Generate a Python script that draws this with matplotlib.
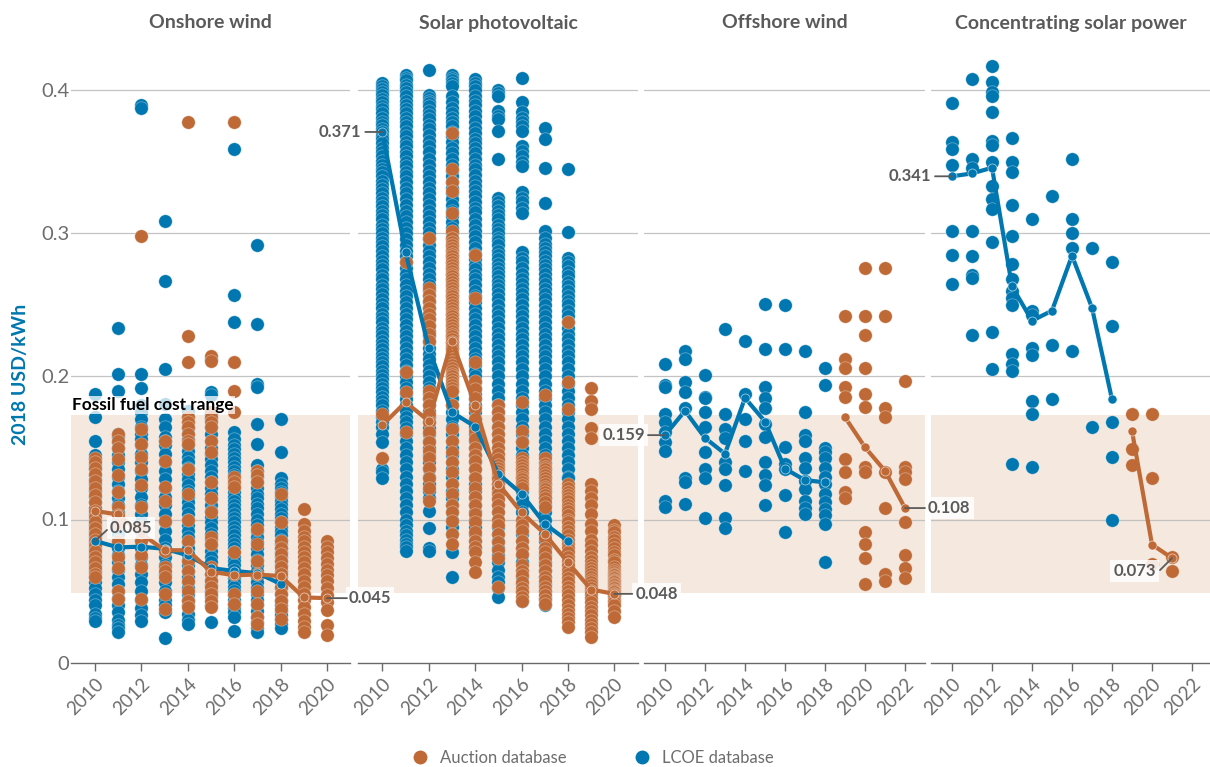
import matplotlib
matplotlib.use("Agg")
import matplotlib.pyplot as plt
from matplotlib.lines import Line2D

plt.rcParams['font.family'] = ['Lato', 'DejaVu Sans']

W = 1210
H = 767
BLUE = "#0077b0"
ORANGE = "#bf6a36"
SHADE = "#f4e8df"
GREY = "#5a5a5a"

titles = ["Onshore wind", "Solar photovoltaic", "Offshore wind", "Concentrating solar power"]
y_ticks = [0, 0.1, 0.2, 0.3, 0.4]
y_tick_labels = ["0", "0.1", "0.2", "0.3", "0.4"]
fossil_range = [0.0483, 0.1734]

# onshore wind, one list per year
onshore_lcoe_years = [2010, 2011, 2012, 2013, 2014, 2015, 2016, 2017, 2018]
onshore_lcoe = [
    [.188, .172, .155, .145, .142, .138, .135, .131, .128, .125, .12, .116, .112, .108, .104, .1, .096, .092, .088, .084, .08, .076, .072, .068, .064, .06, .056, .052, .048, .044, .04, .034, .031, .029],
    [.234, .202, .19, .16, .158, .154, .15, .145, .14, .135, .13, .125, .12, .115, .11, .105, .1, .095, .09, .085, .08, .075, .07, .065, .06, .055, .05, .045, .04, .035, .03, .026, .024, .021],
    [.39, .388, .202, .192, .18, .175, .17, .165, .16, .156, .152, .146, .14, .134, .128, .122, .116, .11, .104, .098, .092, .086, .08, .074, .068, .062, .056, .05, .044, .038, .033, .029],
    [.309, .267, .205, .181, .17, .165, .158, .155, .152, .146, .14, .134, .128, .122, .116, .11, .104, .098, .092, .086, .08, .074, .068, .062, .056, .05, .044, .04, .035, .017],
    [.176, .172, .168, .164, .16, .156, .152, .148, .144, .14, .136, .132, .128, .124, .12, .116, .112, .108, .104, .1, .096, .092, .088, .084, .08, .076, .072, .068, .064, .06, .056, .052, .048, .044, .04, .034, .03, .027],
    [.212, .189, .187, .174, .17, .165, .16, .155, .15, .146, .142, .138, .134, .13, .126, .122, .118, .114, .11, .106, .102, .098, .094, .09, .086, .082, .078, .074, .07, .066, .062, .058, .054, .05, .046, .04, .028],
    [.359, .257, .238, .161, .156, .152, .149, .146, .143, .14, .137, .134, .131, .128, .125, .122, .119, .116, .113, .11, .107, .104, .101, .098, .095, .092, .089, .086, .083, .08, .077, .074, .071, .068, .065, .062, .059, .056, .053, .05, .047, .044, .041, .038, .035, .032, .022],
    [.292, .237, .195, .193, .167, .153, .138, .134, .13, .126, .122, .118, .115, .111, .108, .104, .1, .096, .092, .088, .084, .08, .076, .072, .068, .064, .06, .056, .052, .048, .044, .04, .036, .032, .028, .024, .021],
    [.17, .147, .129, .125, .122, .119, .116, .113, .11, .107, .104, .101, .098, .095, .092, .089, .086, .083, .08, .077, .074, .071, .068, .064, .06, .056, .052, .048, .044, .04, .036, .033, .03, .027, .024],
]
onshore_auction_years = [2010, 2011, 2012, 2013, 2014, 2015, 2016, 2017, 2018, 2019, 2020]
onshore_auction = [
    [.143, .14, .136, .132, .127, .122, .117, .112, .106, .102, .098, .094, .09, .086, .082, .078, .074, .07, .066, .062, .06],
    [.16, .155, .15, .142, .131, .119, .109, .103, .097, .085, .074, .066, .05, .0445],
    [.298, .163, .153, .144, .135, .124, .109, .095, .085, .075, .067, .0445],
    [.155, .141, .123, .113, .099, .078, .067, .064, .06, .048, .0375],
    [.378, .228, .21, .172, .168, .165, .16, .155, .153, .135, .118, .1, .085, .071, .064, .057, .05, .043, .039],
    [.214, .211, .175, .172, .168, .165, .155, .147, .126, .115, .105, .088, .083, .067, .062, .057, .053, .048, .043, .039],
    [.378, .21, .19, .175, .13, .126, .123, .077, .062, .048, .041],
    [.134, .131, .126, .0935, .083, .071, .062, .05, .041, .032, .027],
    [.118, .098, .085, .08, .076, .071, .067, .062, .057, .053, .048, .043, .0375, .0305],
    [.107, .097, .092, .088, .085, .081, .077, .074, .07, .066, .062, .057, .053, .048, .044, .039, .034, .029, .025, .021],
    [.085, .081, .077, .073, .069, .065, .061, .057, .052, .047, .042, .037, .026, .019],
]
onshore_lcoe_line = [.085, .0805, .081, .0795, .075, .066, .064, .0625, .055]
onshore_auction_line = [.106, .1035, .09, .0785, .0785, .0635, .061, .0615, .0605, .0455, .045]

# solar photovoltaic
solar_lcoe_years = [2010, 2011, 2012, 2013, 2014, 2015, 2016, 2017, 2018]
solar_lcoe = [
    [.405, .403, .401, .399, .397, .394, .392, .389, .387, .384, .381, .378, .376, .373, .371, .368, .366, .363, .36, .357, .354, .351, .348, .345, .343, .34, .337, .334, .331, .328, .325, .322, .319, .316, .313, .31, .306, .303, .3, .297, .294, .291, .288, .284, .281, .278, .275, .271, .268, .264, .261, .258, .254, .251, .248, .244, .241, .238, .234, .231, .228, .225, .222, .219, .216, .213, .21, .207, .204, .201, .198, .195, .192, .189, .186, .183, .18, .176, .172, .168, .165, .16, .154, .135, .133, .129],
    [.411, .409, .407, .404, .402, .399, .396, .393, .39, .387, .384, .381, .378, .375, .371, .368, .364, .361, .357, .354, .35, .347, .343, .34, .336, .332, .328, .324, .32, .316, .312, .308, .304, .3, .296, .292, .288, .284, .28, .276, .272, .268, .264, .26, .256, .252, .248, .244, .24, .236, .232, .228, .224, .22, .216, .212, .208, .204, .2, .196, .192, .188, .184, .18, .176, .172, .168, .164, .16, .155, .15, .145, .14, .135, .13, .125, .12, .115, .11, .105, .1, .096, .092, .089, .086, .083, .081, .078],
    [.414, .397, .395, .393, .391, .389, .386, .383, .38, .376, .373, .369, .365, .361, .357, .352, .348, .344, .34, .336, .332, .328, .324, .32, .316, .312, .308, .304, .3, .296, .292, .288, .284, .28, .276, .272, .268, .264, .26, .256, .252, .248, .244, .24, .236, .232, .228, .224, .22, .216, .212, .208, .204, .2, .196, .192, .188, .184, .18, .176, .172, .168, .164, .16, .155, .15, .145, .14, .135, .13, .125, .12, .115, .106, .094, .08, .078],
    [.411, .409, .407, .405, .403, .396, .392, .388, .384, .381, .378, .375, .371, .368, .364, .36, .356, .352, .348, .344, .34, .336, .332, .328, .324, .32, .316, .312, .308, .304, .3, .296, .292, .288, .284, .28, .276, .272, .268, .264, .26, .256, .252, .248, .244, .24, .236, .232, .228, .224, .22, .216, .212, .208, .204, .2, .195, .19, .185, .18, .175, .17, .165, .16, .155, .15, .145, .14, .135, .13, .125, .12, .115, .11, .105, .1, .095, .09, .077, .06],
    [.408, .405, .403, .4, .396, .393, .39, .386, .382, .378, .374, .37, .366, .363, .36, .356, .352, .348, .345, .341, .337, .333, .33, .326, .322, .318, .315, .31, .306, .302, .298, .294, .29, .286, .282, .278, .275, .271, .268, .264, .26, .256, .252, .248, .244, .24, .236, .232, .228, .224, .22, .216, .212, .208, .204, .2, .196, .192, .188, .184, .18, .175, .17, .165, .16, .155, .15, .145, .14, .135, .13, .125, .12, .115, .11, .105, .1, .095, .09, .085, .08],
    [.4, .398, .396, .386, .382, .38, .372, .352, .325, .322, .319, .316, .313, .31, .306, .303, .3, .297, .295, .292, .288, .285, .282, .279, .276, .273, .27, .267, .264, .261, .258, .254, .25, .246, .242, .238, .234, .23, .226, .222, .218, .214, .21, .205, .2, .195, .19, .185, .18, .175, .17, .165, .16, .155, .15, .145, .14, .135, .13, .125, .12, .115, .11, .105, .1, .095, .09, .085, .08, .075, .07, .065, .06, .056, .052, .0455],
    [.409, .392, .385, .381, .378, .375, .372, .361, .358, .354, .35, .347, .329, .325, .322, .318, .314, .287, .283, .28, .276, .272, .268, .265, .261, .258, .254, .25, .246, .242, .238, .234, .23, .226, .222, .218, .214, .21, .205, .2, .195, .19, .185, .18, .175, .17, .165, .16, .155, .15, .145, .14, .135, .13, .125, .12, .115, .11, .105, .1, .095, .09, .085, .08, .075, .07, .065, .06, .055, .05, .043],
    [.374, .366, .346, .321, .302, .297, .293, .29, .287, .284, .281, .278, .275, .272, .268, .265, .261, .258, .254, .25, .246, .242, .238, .234, .23, .226, .222, .218, .214, .21, .205, .2, .195, .19, .185, .18, .175, .17, .165, .16, .155, .15, .145, .14, .135, .13, .125, .12, .115, .11, .105, .1, .095, .09, .085, .08, .075, .07, .065, .06, .055, .05, .045, .04],
    [.345, .301, .283, .28, .277, .273, .27, .266, .263, .26, .256, .253, .25, .246, .242, .238, .234, .23, .226, .222, .218, .214, .21, .205, .2, .195, .19, .185, .18, .175, .17, .165, .16, .155, .15, .145, .14, .135, .13, .129, .12],
]
solar_auction_years = [2010, 2011, 2012, 2013, 2014, 2015, 2016, 2017, 2018, 2019, 2020]
solar_auction = [
    [.174, .143],
    [.28, .203, .189, .161],
    [.297, .262, .257, .253, .248, .244, .24, .235, .23, .225, .19, .185, .18, .174, .168, .161, .154, .148, .143, .136, .129, .122, .113],
    [.37, .345, .336, .33, .314, .302, .297, .294, .292, .29, .288, .286, .284, .282, .28, .278, .276, .274, .272, .27, .268, .266, .264, .262, .26, .258, .256, .254, .252, .25, .248, .246, .244, .242, .24, .238, .236, .234, .232, .23, .228, .226, .224, .222, .22, .218, .216, .214, .212, .21, .208, .206, .204, .202, .2, .198, .196, .194, .192, .19, .18, .163, .155, .147, .14, .133, .125, .118, .11, .105, .099, .09, .083],
    [.285, .255, .21, .197, .191, .185, .178, .17, .162, .156, .15, .145, .141, .135, .129, .122, .116, .11, .104, .098, .091, .085, .081, .077, .07, .063],
    [.18, .175, .17, .165, .16, .155, .15, .146, .142, .138, .136, .134, .132, .13, .128, .125, .122, .118, .114, .11, .105, .1, .096, .09, .084, .079, .073, .053],
    [.182, .162, .154, .143, .14, .138, .136, .134, .132, .13, .128, .126, .124, .122, .1, .096, .092, .085, .08, .076, .068, .064, .061, .056, .052, .049, .046, .043],
    [.187, .143, .139, .137, .135, .133, .131, .129, .127, .125, .123, .121, .119, .117, .115, .112, .109, .087, .08, .077, .073, .068, .064, .06, .057, .053, .05, .047, .044, .041],
    [.238, .196, .177, .125, .122, .119, .117, .115, .113, .11, .108, .106, .103, .1, .098, .095, .092, .089, .086, .083, .08, .077, .074, .071, .068, .065, .062, .059, .056, .053, .05, .047, .044, .04, .037, .034, .031, .028, .025],
    [.192, .183, .177, .164, .157, .125, .12, .115, .11, .104, .097, .092, .086, .082, .078, .074, .071, .068, .066, .064, .062, .06, .058, .056, .054, .052, .05, .048, .045, .042, .039, .036, .033, .03, .027, .024, .021, .0175],
    [.096, .093, .091, .088, .086, .083, .08, .077, .075, .072, .07, .067, .065, .063, .062, .061, .06, .059, .058, .057, .056, .055, .054, .053, .052, .051, .05, .049, .048, .047, .046, .044, .042, .04, .036, .032],
]
solar_lcoe_line = [.371, .287, .22, .175, .165, .132, .118, .097, .085]
solar_auction_line = [.166, .182, .169, .225, .18, .125, .105, .09, .07, .051, .048]

# offshore wind
offshore_lcoe_years = [2010, 2011, 2012, 2013, 2014, 2015, 2016, 2017, 2018]
offshore_lcoe = [
    [.209, .194, .193, .174, .168, .161, .154, .148, .113, .1085],
    [.2175, .212, .196, .1895, .178, .129, .126, .111],
    [.201, .186, .185, .175, .165, .147, .135, .129, .101],
    [.233, .174, .163, .157, .14, .135, .124, .101, .094],
    [.2245, .188, .17, .155, .134],
    [.251, .219, .193, .185, .178, .167, .158, .14, .131, .124, .11],
    [.25, .2195, .151, .139, .135, .117, .091],
    [.218, .175, .159, .155, .143, .136, .127, .121, .113, .108, .104],
    [.206, .194, .15, .147, .143, .136, .13, .125, .118, .112, .107, .103, .097, .07],
]
offshore_auction_years = [2019, 2020, 2021, 2022]
offshore_auction = [
    [.242, .212, .206, .193, .186, .142, .133, .119, .115],
    [.276, .242, .229, .206, .188, .179, .137, .133, .091, .083, .073, .055],
    [.276, .242, .178, .172, .133, .108, .062, .057],
    [.197, .137, .133, .128, .098, .0755, .066, .059],
]
offshore_lcoe_line = [.159, .176, .157, .146, .185, .1685, .1355, .1275, .126]
offshore_auction_line = [.1715, .1505, .134, .108]

# concentrating solar power
csp_lcoe_years = [2010, 2011, 2012, 2013, 2014, 2015, 2016, 2017, 2018]
csp_lcoe = [
    [.391, .364, .359, .348, .302, .285, .265],
    [.408, .352, .346, .302, .284, .271, .269, .229],
    [.417, .406, .399, .396, .385, .365, .362, .35, .3335, .324, .317, .294, .231, .2055],
    [.367, .35, .343, .32, .298, .279, .268, .26, .255, .25, .216, .209, .204, .1385],
    [.31, .246, .243, .22, .215, .183, .174, .1365],
    [.3265, .222, .184],
    [.352, .31, .3, .29, .218],
    [.29, .165],
    [.28, .2355, .168, .1435, .0995],
]
csp_auction_years = [2019, 2020, 2021]
csp_auction = [
    [.174, .149, .138],
    [.174, .129, .069],
    [.074, .064],
]
csp_lcoe_line = [.34, .342, .346, .263, .239, .246, .2845, .248, .184]
csp_auction_line = [.162, .0825, .073]

# left pixel, right pixel, pixel of 2010, pixels per year, last labelled year
panels = [
    (71, 350, 95, 23.2, 2020),
    (358, 638, 382.3, 23.2, 2020),
    (644, 925, 665, 20, 2022),
    (931, 1210, 952, 20, 2022),
]
panel_data = [
    (onshore_lcoe_years, onshore_lcoe, onshore_auction_years, onshore_auction, onshore_lcoe_line, onshore_auction_line),
    (solar_lcoe_years, solar_lcoe, solar_auction_years, solar_auction, solar_lcoe_line, solar_auction_line),
    (offshore_lcoe_years, offshore_lcoe, offshore_auction_years, offshore_auction, offshore_lcoe_line, offshore_auction_line),
    (csp_lcoe_years, csp_lcoe, csp_auction_years, csp_auction, csp_lcoe_line, csp_auction_line),
]

# panel, year, value, text, text offset in pixels, alignment, leader end offset
callouts = [
    (0, 2010, .085, "0.085", (15, 13), "left", (12, 11)),
    (0, 2020, .045, "0.045", (22, 0), "left", (20, 0)),
    (1, 2010, .371, "0.371", (-21, 0), "right", (-17, 0)),
    (1, 2020, .048, "0.048", (21, 0), "left", (18, 0)),
    (2, 2010, .159, "0.159", (-20, 0), "right", (-17, 0)),
    (2, 2022, .108, "0.108", (23, 0), "left", (20, 0)),
    (3, 2010, .34, "0.341", (-21, 0), "right", (-17, 0)),
    (3, 2021, .073, "0.073", (-16, -13), "right", (-12, -12)),
]

fig = plt.figure(figsize=(W / 100, H / 100), dpi=100)

y_bottom = 662.5
y_top = 47
axes = []
for i, (left, right, x0, step, last) in enumerate(panels):
    ax = fig.add_axes([left / W, 1 - y_bottom / H, (right - left) / W, (y_bottom - y_top) / H])
    ax.set_xlim(2010 - (x0 - left) / step, 2010 + (right - x0) / step)
    ax.set_ylim(0, (y_bottom - y_top) / 1430)
    ax.axhspan(fossil_range[0], fossil_range[1], color=SHADE, lw=0, zorder=0)
    for v in y_ticks[1:]:
        ax.axhline(v, color="#bdbdbd", lw=0.9, zorder=1, alpha=0.9)

    lcoe_years, lcoe, auction_years, auction, lcoe_line, auction_line = panel_data[i]
    for year, values in zip(lcoe_years, lcoe):
        ax.scatter([year] * len(values), values, s=94, color=BLUE, edgecolors=(1, 1, 1, 0.35), linewidths=0.6, zorder=3, clip_on=False)
    for year, values in zip(auction_years, auction):
        ax.scatter([year] * len(values), values, s=94, color=ORANGE, edgecolors=(1, 1, 1, 0.35), linewidths=0.6, zorder=4, clip_on=False)
    ax.plot(lcoe_years, lcoe_line, color=BLUE, lw=3, marker="o", ms=6.5, mec=(1, 1, 1, 0.6), mew=0.6, zorder=5)
    ax.plot(auction_years, auction_line, color=ORANGE, lw=3, marker="o", ms=6.5, mec=(1, 1, 1, 0.6), mew=0.6, zorder=6)

    for s in ["top", "left", "right"]:
        ax.spines[s].set_visible(False)
    ax.spines["bottom"].set_color("#6a6a6a")
    ax.spines["bottom"].set_linewidth(1.0)

    ax.set_xticks(list(range(2010, last + 1, 2)))
    ax.tick_params(axis="x", length=6, width=1, color="#6a6a6a", labelcolor="#6d6d6d", labelsize=13.5, pad=3)
    for label in ax.get_xticklabels():
        label.set_rotation(45)
        label.set_ha("right")
        label.set_va("top")
        label.set_rotation_mode("anchor")
    if i == 0:
        ax.set_yticks(y_ticks)
        ax.set_yticklabels(y_tick_labels)
        ax.tick_params(axis="y", length=0, labelcolor="#6d6d6d", labelsize=14.5, pad=1)
    else:
        ax.set_yticks([])

    fig.text((left + right) / 2 / W, 1 - 23 / H, titles[i], ha="center", va="center", fontsize=14, fontweight="bold", color=GREY)
    axes.append(ax)

# callouts go on a top layer so the next panel does not hide them
overlay = fig.add_axes([0, 0, 1, 1], zorder=20)
overlay.axis("off")
for i, year, value, text, offset, align, line_end in callouts:
    overlay.annotate(text, xy=(year, value), xycoords=axes[i].transData, xytext=offset, textcoords="offset pixels",
                     ha=align, va="center", fontsize=12, fontweight="bold", color=GREY, annotation_clip=False,
                     bbox=dict(boxstyle="square,pad=0.18", fc="white", ec="none", alpha=0.85))
    overlay.annotate("", xy=(year, value), xycoords=axes[i].transData, xytext=line_end, textcoords="offset pixels",
                     arrowprops=dict(arrowstyle="-", color=GREY, lw=1.3, shrinkA=0, shrinkB=0), annotation_clip=False)

overlay.text(72 / W, 1 - 405 / H, "Fossil fuel cost range", transform=fig.transFigure, va="center", color="black",
             fontsize=12.4, fontweight="bold", bbox=dict(boxstyle="square,pad=0.08", fc="white", ec="none", alpha=0.75))

fig.text(21 / W, 1 - 374 / H, "2018 USD/kWh", rotation=90, ha="center", va="center", fontsize=14, fontweight="bold", color=BLUE)

handles = [
    Line2D([], [], ls="", marker="o", ms=10, color=ORANGE, mec="none"),
    Line2D([], [], ls="", marker="o", ms=10, color=BLUE, mec="none"),
]
fig.legend(handles, ["Auction database", "LCOE database"], ncol=2, frameon=False, loc="center",
           bbox_to_anchor=(593 / W, 1 - 758 / H), fontsize=12, labelcolor="#6d6d6d",
           columnspacing=4.0, handlelength=1.0, handletextpad=0.7)

fig.savefig("out.png", dpi=100)
